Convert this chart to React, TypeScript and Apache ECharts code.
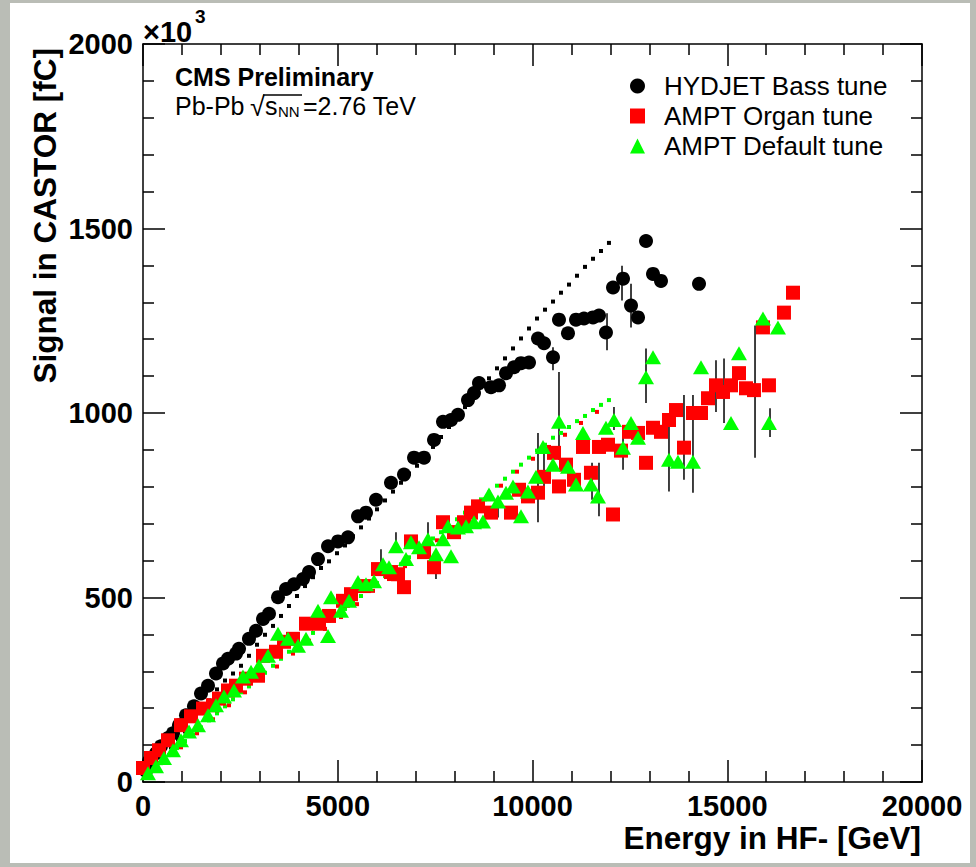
import React, { useEffect, useRef } from 'react';
import * as echarts from 'echarts';

const FONT = '"Liberation Sans", Arial, Helvetica, sans-serif';

const X_MIN = 0;
const X_MAX = 20000;
const X_STEP = 5000;
const Y_MIN = 0;
const Y_MAX = 2000;
const Y_STEP = 500;

const LEGEND_NAMES = ['HYDJET Bass tune', 'AMPT Organ tune', 'AMPT Default tune'];

// HYDJET Bass tune (black circles), [Energy GeV, Signal x10^3 fC]
const HYDJET_BASS: [number, number][] = [
  [77, 30], [154, 57], [334, 78], [462, 97], [642, 119], [770, 132], [924, 154], [1104, 181],
  [1309, 205], [1489, 240], [1669, 261], [1874, 294], [2054, 321], [2182, 334], [2388, 348],
  [2465, 361], [2721, 388], [2901, 410], [3081, 442], [3235, 456], [3466, 501], [3671, 523],
  [3877, 536], [4108, 550], [4262, 569], [4493, 604], [4750, 639], [5006, 652], [5263, 663],
  [5520, 720], [5725, 730], [5982, 765], [6367, 811], [6701, 833], [6958, 879], [7214, 879],
  [7471, 927], [7702, 976], [7908, 981], [8087, 995], [8344, 1035], [8498, 1054], [8626, 1081],
  [8934, 1070], [9140, 1075], [9320, 1108], [9525, 1124], [9705, 1135], [9910, 1137],
  [10141, 1202], [10295, 1189], [10526, 1151], [10680, 1253], [10911, 1216], [11117, 1253],
  [11322, 1256], [11553, 1259], [11707, 1264], [11886, 1218], [12067, 1340], [12324, 1364],
  [12529, 1291], [12709, 1259], [12914, 1466], [13094, 1377], [13299, 1358], [14275, 1350],
];

// AMPT Organ tune (red squares)
const AMPT_ORGAN: [number, number][] = [
  [0, 38], [205, 65], [411, 86], [642, 113], [976, 154], [1232, 178], [1540, 199], [1797, 208],
  [1951, 226], [2182, 248], [2388, 261], [2644, 280], [2952, 288], [3081, 342], [3415, 353],
  [3620, 380], [3851, 388], [4185, 429], [4519, 429], [4776, 450], [5135, 491], [5340, 509],
  [5674, 531], [6033, 577], [6367, 569], [6547, 563], [6701, 528], [6880, 652], [7214, 623],
  [7471, 582], [7702, 704], [7985, 677], [8241, 704], [8421, 730], [8601, 747], [8934, 730],
  [9448, 730], [9653, 792], [9884, 774], [10141, 784], [10295, 827], [10552, 892], [10680, 801],
  [10860, 860], [11065, 819], [11296, 908], [11501, 838], [11707, 908], [11938, 914],
  [12067, 725], [12272, 898], [12477, 949], [12709, 946], [12914, 865], [13094, 960],
  [13299, 949], [13504, 981], [13684, 1008], [13889, 906], [14120, 1000], [14326, 1000],
  [14506, 1040], [14711, 1075], [14891, 1057], [15096, 1075], [15301, 1108], [15481, 1067],
  [15686, 1062], [15917, 1232], [16071, 1075], [16456, 1272], [16688, 1326],
];

// AMPT Default tune (green triangles)
const AMPT_DEFAULT: [number, number][] = [
  [128, 24], [334, 43], [539, 65], [770, 86], [976, 113], [1181, 137], [1412, 154], [1669, 181],
  [1874, 208], [2080, 232], [2336, 248], [2567, 286], [2773, 299], [2978, 315], [3209, 342],
  [3466, 402], [3723, 388], [3979, 369], [4185, 388], [4493, 464], [4750, 396], [4827, 501],
  [5083, 464], [5289, 491], [5520, 542], [5725, 536], [5931, 544], [6162, 590], [6316, 582],
  [6495, 639], [6752, 604], [6880, 650], [7086, 636], [7317, 658], [7522, 617], [7702, 658],
  [7831, 693], [7908, 612], [8087, 690], [8293, 693], [8498, 704], [8729, 706], [8883, 779],
  [9114, 760], [9320, 784], [9499, 801], [9705, 720], [9884, 787], [10090, 827], [10270, 908],
  [10526, 860], [10680, 976], [10911, 854], [11117, 806], [11296, 946], [11501, 806],
  [11681, 774], [11886, 960], [12092, 981], [12324, 906], [12529, 973], [12709, 933],
  [12914, 1097], [13094, 1151], [13504, 873], [13735, 868], [14120, 868], [14326, 1124],
  [15096, 973], [15301, 1162], [15917, 1256], [16071, 973], [16302, 1232],
];

// high-statistics curves drawn as small dots
const HYDJET_DOTS: [number, number][] = [
  [77, 16], [205, 32], [385, 51], [539, 73], [719, 94], [899, 116], [1078, 137], [1284, 167],
  [1489, 194], [1694, 221], [1900, 251], [2105, 275], [2311, 294], [2516, 315], [2721, 342],
  [2927, 372], [3132, 399], [3338, 423], [3543, 450], [3748, 477], [3954, 504], [4159, 531],
  [4365, 555], [4570, 580], [4775, 598], [4981, 620], [5186, 641], [5391, 666], [5597, 690],
  [5802, 714], [6008, 739], [6213, 763], [6419, 787], [6624, 811], [6829, 836], [7035, 857],
  [7240, 881], [7445, 908], [7651, 935], [7856, 962], [8062, 989], [8267, 1016], [8472, 1043],
  [8678, 1070], [8883, 1094], [9088, 1121], [9294, 1148], [9499, 1175], [9705, 1202],
  [9910, 1229], [10116, 1256], [10321, 1280], [10526, 1302], [10731, 1326], [10937, 1348],
  [11142, 1372], [11348, 1396], [11553, 1418], [11758, 1439], [11963, 1461],
];

const ORGAN_DOTS: [number, number][] = [
  [154, 24], [565, 59], [976, 94], [1386, 132], [1797, 170], [2208, 208], [2619, 243],
  [3029, 278], [3440, 313], [3851, 348], [4262, 383], [4673, 415], [5083, 447], [5494, 482],
  [5905, 518], [6316, 550], [6727, 585], [7137, 620], [7548, 655], [7959, 690], [8370, 728],
  [8780, 766], [9191, 803], [9602, 841], [10013, 876], [10424, 908], [10834, 941],
  [11245, 973], [11655, 1003],
];

const DEFAULT_DOTS: [number, number][] = [
  [77, 16], [257, 32], [462, 51], [668, 73], [873, 92], [1078, 111], [1284, 129], [1489, 148],
  [1694, 167], [1900, 186], [2105, 205], [2311, 224], [2516, 243], [2721, 259], [2927, 278],
  [3132, 296], [3338, 315], [3543, 334], [3748, 353], [3954, 369], [4159, 388], [4365, 404],
  [4570, 420], [4775, 437], [4981, 453], [5186, 469], [5391, 488], [5597, 504], [5802, 523],
  [6008, 539], [6213, 558], [6419, 574], [6624, 590], [6829, 609], [7035, 625], [7240, 642],
  [7445, 660], [7651, 677], [7856, 693], [8062, 712], [8267, 730], [8472, 747], [8678, 766],
  [8883, 784], [9088, 803], [9294, 822], [9499, 841], [9705, 860], [9910, 879], [10116, 898],
  [10321, 914], [10526, 933], [10731, 946], [10937, 962], [11142, 978], [11348, 992],
  [11553, 1008], [11758, 1022], [11963, 1035],
];

// vertical error bars: [x, low, high]
const ERROR_BARS: [number, number, number][] = [
  [6110, 585, 631], [6495, 625, 677], [7317, 658, 704], [7522, 550, 582], [9114, 717, 765],
  [10141, 704, 946], [10295, 801, 900], [10526, 1116, 1178], [10680, 873, 1111],
  [11528, 765, 865], [11707, 720, 865], [11913, 1170, 1270], [12092, 954, 1016],
  [12298, 1305, 1399], [12324, 846, 962], [12529, 1232, 1350], [12914, 1027, 1175],
  [13504, 787, 973], [13889, 819, 1049], [14120, 784, 1049], [14711, 1003, 1143],
  [14917, 973, 1148], [15713, 879, 1237], [16098, 935, 1013],
];

const axisLineStyle = { color: '#000', width: 1.5 };
const plainNumber = (v: number) => String(v);

function makeXAxis(position: 'bottom' | 'top', labels: boolean) {
  return {
    type: 'value',
    position,
    min: X_MIN,
    max: X_MAX,
    interval: X_STEP,
    axisLine: { show: true, onZero: false, lineStyle: axisLineStyle },
    axisTick: { show: true, inside: true, length: 22, lineStyle: axisLineStyle },
    minorTick: { show: true, splitNumber: 5, length: 11, lineStyle: axisLineStyle },
    splitLine: { show: false },
    minorSplitLine: { show: false },
    axisLabel: {
      show: labels,
      color: '#000',
      fontFamily: FONT,
      fontWeight: 'bold',
      fontSize: 29,
      lineHeight: 24,
      margin: 12,
      formatter: plainNumber,
    },
  };
}

function makeYAxis(position: 'left' | 'right', labels: boolean) {
  return {
    type: 'value',
    position,
    min: Y_MIN,
    max: Y_MAX,
    interval: Y_STEP,
    axisLine: { show: true, onZero: false, lineStyle: axisLineStyle },
    axisTick: { show: true, inside: true, length: 22, lineStyle: axisLineStyle },
    minorTick: { show: true, splitNumber: 5, length: 11, lineStyle: axisLineStyle },
    splitLine: { show: false },
    minorSplitLine: { show: false },
    axisLabel: {
      show: labels,
      color: '#000',
      fontFamily: FONT,
      fontWeight: 'bold',
      fontSize: 29,
      margin: 10,
      formatter: plainNumber,
    },
  };
}

export default function App() {
  const ref = useRef<HTMLDivElement>(null);

  useEffect(() => {
    if (!ref.current) return;
    const chart = echarts.init(ref.current, null, { renderer: 'svg' });
    chart.setOption({
      animation: false,
      backgroundColor: 'transparent',
      grid: { left: 143, top: 44, right: 54, bottom: 85, containLabel: false },
      xAxis: [makeXAxis('bottom', true), makeXAxis('top', false)],
      yAxis: [makeYAxis('left', true), makeYAxis('right', false)],
      legend: {
        data: LEGEND_NAMES,
        orient: 'vertical',
        left: 625,
        top: 67,
        itemWidth: 15,
        itemHeight: 15,
        itemGap: 2,
        selectedMode: false,
        textStyle: { fontFamily: FONT, fontSize: 26, color: '#000', padding: [0, 0, 0, 14], lineHeight: 28 },
      },
      graphic: [
        { type: 'text', left: 143, top: 17, style: { text: '×10', font: `bold 29px ${FONT}`, fill: '#000' } },
        { type: 'text', left: 195, top: 7, style: { text: '3', font: `bold 19px ${FONT}`, fill: '#000' } },
        { type: 'text', x: 175, y: 77, style: { text: 'CMS Preliminary', font: `bold 25px ${FONT}`, fill: '#000', verticalAlign: 'middle' } },
        { type: 'text', x: 175, y: 106, style: { text: 'Pb-Pb', font: `25px ${FONT}`, fill: '#000', verticalAlign: 'middle' } },
        { type: 'text', x: 250, y: 107, style: { text: '√', font: `27px ${FONT}`, fill: '#000', verticalAlign: 'middle' } },
        { type: 'line', shape: { x1: 263, y1: 95, x2: 302, y2: 95 }, style: { stroke: '#000', lineWidth: 1.3 } },
        { type: 'text', x: 265, y: 106, style: { text: 's', font: `25px ${FONT}`, fill: '#000', verticalAlign: 'middle' } },
        { type: 'text', x: 278, y: 111, style: { text: 'NN', font: `15px ${FONT}`, fill: '#000', verticalAlign: 'middle' } },
        { type: 'text', x: 303, y: 106, style: { text: '=2.76 TeV', font: `25px ${FONT}`, fill: '#000', verticalAlign: 'middle' } },
        {
          type: 'text', x: 45, y: 48, rotation: Math.PI / 2,
          style: { text: 'Signal in CASTOR [fC]', font: `bold 31.5px ${FONT}`, fill: '#000', align: 'right', verticalAlign: 'middle' },
        },
        {
          type: 'text', x: 921, y: 838,
          style: { text: 'Energy in HF- [GeV]', font: `bold 31.5px ${FONT}`, fill: '#000', align: 'right', verticalAlign: 'middle', lineHeight: 28 },
        },
      ],
      series: [
        {
          type: 'custom',
          name: 'errors',
          xAxisIndex: 0,
          yAxisIndex: 0,
          data: ERROR_BARS,
          encode: { x: 0, y: [1, 2] },
          z: 1,
          silent: true,
          renderItem: (params: any, api: any) => {
            const top = api.coord([api.value(0), api.value(2)]);
            const bot = api.coord([api.value(0), api.value(1)]);
            return {
              type: 'line',
              shape: { x1: top[0], y1: top[1], x2: bot[0], y2: bot[1] },
              style: { stroke: '#000', lineWidth: 1.5 },
            };
          },
        },
        { type: 'scatter', name: 'hydjet-hs', data: HYDJET_DOTS, symbol: 'rect', symbolSize: 4, itemStyle: { color: '#000', opacity: 1 }, z: 2, silent: true },
        { type: 'scatter', name: 'organ-hs', data: ORGAN_DOTS, symbol: 'rect', symbolSize: 4, itemStyle: { color: '#ff0000', opacity: 1 }, z: 2, silent: true },
        { type: 'scatter', name: 'default-hs', data: DEFAULT_DOTS, symbol: 'rect', symbolSize: 4, itemStyle: { color: '#00ff00', opacity: 1 }, z: 2, silent: true },
        { type: 'scatter', name: LEGEND_NAMES[0], data: HYDJET_BASS, symbol: 'circle', symbolSize: 14, itemStyle: { color: '#000', opacity: 1 }, z: 3 },
        { type: 'scatter', name: LEGEND_NAMES[1], data: AMPT_ORGAN, symbol: 'rect', symbolSize: 14, itemStyle: { color: '#ff0000', opacity: 1 }, z: 3 },
        { type: 'scatter', name: LEGEND_NAMES[2], data: AMPT_DEFAULT, symbol: 'triangle', symbolSize: [16, 14], itemStyle: { color: '#00ff00', opacity: 1 }, z: 3 },
      ],
    });
    return () => chart.dispose();
  }, []);

  return (
    <div style={{ position: 'fixed', left: 0, top: 0, width: 976, height: 867, background: '#babdb6' }}>
      <div style={{ position: 'absolute', left: 10, top: 3, width: 960, height: 860, background: '#ffffff' }} />
      <div ref={ref} style={{ position: 'absolute', left: 0, top: 0, width: 976, height: 867 }} />
    </div>
  );
}
